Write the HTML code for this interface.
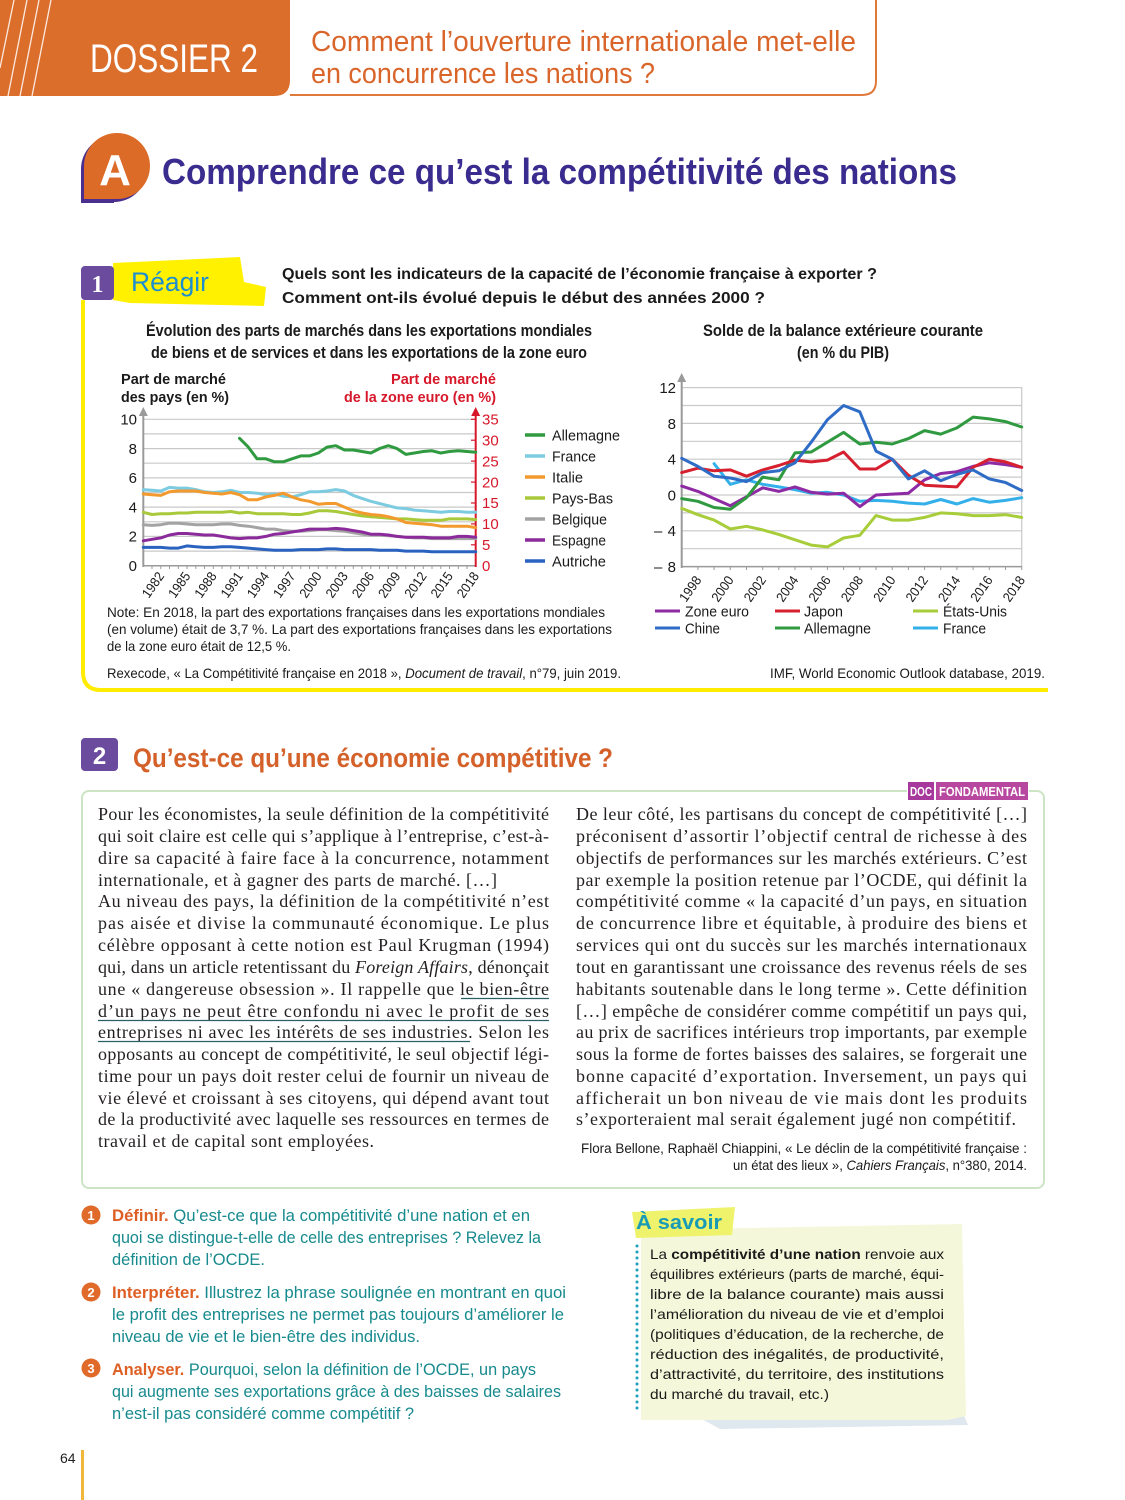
<!DOCTYPE html>
<html><head><meta charset="utf-8"><style>
html,body{margin:0;padding:0;background:#fff;}
svg{display:block;}
text{font-family:"Liberation Sans",sans-serif;}
.serif{font-family:"Liberation Serif",serif;}
</style></head><body>
<svg width="1125" height="1500" viewBox="0 0 1125 1500" xmlns="http://www.w3.org/2000/svg">
<!-- Header -->
<path d="M0,0 H290 V80 Q290,96 274,96 H0 Z" fill="#dc6e2c"/>
<g stroke="#fff" stroke-width="1.3" opacity="0.85">
<line x1="14" y1="0" x2="0" y2="68"/><line x1="27" y1="0" x2="8" y2="96"/><line x1="39" y1="0" x2="20" y2="96"/><line x1="51" y1="0" x2="32" y2="96"/>
</g>
<path d="M290,95 H862 Q876,95 876,81 V0" fill="none" stroke="#df7a3c" stroke-width="2"/>
<text x="90" y="72" font-size="40" fill="#fff" textLength="168" lengthAdjust="spacingAndGlyphs">DOSSIER 2</text>
<text x="311" y="51" font-size="29" fill="#d9652a" textLength="545" lengthAdjust="spacingAndGlyphs">Comment l’ouverture internationale met-elle</text>
<text x="311" y="83" font-size="29" fill="#d9652a" textLength="344" lengthAdjust="spacingAndGlyphs">en concurrence les nations ?</text>

<!-- A title -->
<circle cx="114" cy="169" r="33" fill="#4a2f8e"/>
<rect x="81" y="169" width="33" height="34" fill="#4a2f8e"/>
<circle cx="117" cy="166" r="33" fill="#dd6b28"/>
<rect x="84" y="166" width="33" height="33" fill="#dd6b28"/>
<text x="115" y="185" font-size="44" font-weight="bold" fill="#fff" text-anchor="middle">A</text>
<text x="162" y="184" font-size="36" font-weight="bold" fill="#3a2b8f" textLength="795" lengthAdjust="spacingAndGlyphs">Comprendre ce qu’est la compétitivité des nations</text>

<!-- Section 1 -->
<polygon points="113,263 240,257 244,282 266,287 264,306 130,303 113,300" fill="#fff100"/>
<path d="M83,300 V672 Q83,690 101,690 H1048" fill="none" stroke="#ffec00" stroke-width="4"/>
<rect x="81" y="266" width="33" height="34" rx="4" fill="#6b4b9d"/>
<text x="97.5" y="292" font-size="24" font-weight="bold" fill="#fff" text-anchor="middle" class="serif">1</text>
<text x="131" y="291" font-size="27" fill="#1d8fd0" textLength="78" lengthAdjust="spacingAndGlyphs">Réagir</text>
<text x="282" y="279" font-size="15.5" font-weight="bold" fill="#1a1a1a" textLength="595" lengthAdjust="spacingAndGlyphs">Quels sont les indicateurs de la capacité de l’économie française à exporter ?</text>
<text x="282" y="303" font-size="15.5" font-weight="bold" fill="#1a1a1a" textLength="483" lengthAdjust="spacingAndGlyphs">Comment ont-ils évolué depuis le début des années 2000 ?</text>

<!-- Left chart titles -->
<text x="146" y="336" font-size="17" font-weight="bold" fill="#1a1a1a" textLength="446" lengthAdjust="spacingAndGlyphs">Évolution des parts de marchés dans les exportations mondiales</text>
<text x="151" y="358" font-size="17" font-weight="bold" fill="#1a1a1a" textLength="436" lengthAdjust="spacingAndGlyphs">de biens et de services et dans les exportations de la zone euro</text>
<text x="121" y="384" font-size="15" font-weight="bold" fill="#1a1a1a" textLength="105" lengthAdjust="spacingAndGlyphs">Part de marché</text>
<text x="121" y="402" font-size="15" font-weight="bold" fill="#1a1a1a" textLength="108" lengthAdjust="spacingAndGlyphs">des pays (en %)</text>
<text x="391" y="384" font-size="15" font-weight="bold" fill="#d7182a" textLength="105" lengthAdjust="spacingAndGlyphs">Part de marché</text>
<text x="344" y="402" font-size="15" font-weight="bold" fill="#d7182a" textLength="152" lengthAdjust="spacingAndGlyphs">de la zone euro (en %)</text>

<!-- Left chart grid -->
<g stroke="#c9c9c9" stroke-width="1.2">
<line x1="143.3" y1="551.1" x2="475.7" y2="551.1"/><line x1="143.3" y1="536.4" x2="475.7" y2="536.4"/>
<line x1="143.3" y1="521.8" x2="475.7" y2="521.8"/><line x1="143.3" y1="507.1" x2="475.7" y2="507.1"/>
<line x1="143.3" y1="492.5" x2="475.7" y2="492.5"/><line x1="143.3" y1="477.9" x2="475.7" y2="477.9"/>
<line x1="143.3" y1="463.2" x2="475.7" y2="463.2"/><line x1="143.3" y1="448.6" x2="475.7" y2="448.6"/>
<line x1="143.3" y1="433.9" x2="475.7" y2="433.9"/><line x1="143.3" y1="419.3" x2="475.7" y2="419.3"/>
</g>
<line x1="143.3" y1="565.7" x2="475.7" y2="565.7" stroke="#9a9a9a" stroke-width="1.5"/>
<g stroke="#9a9a9a" stroke-width="1">
<line x1="152" y1="565.7" x2="152" y2="569"/><line x1="160.8" y1="565.7" x2="160.8" y2="569"/><line x1="169.5" y1="565.7" x2="169.5" y2="569"/><line x1="178.3" y1="565.7" x2="178.3" y2="569"/><line x1="187" y1="565.7" x2="187" y2="569"/><line x1="195.8" y1="565.7" x2="195.8" y2="569"/><line x1="204.5" y1="565.7" x2="204.5" y2="569"/><line x1="213.3" y1="565.7" x2="213.3" y2="569"/><line x1="222" y1="565.7" x2="222" y2="569"/><line x1="230.8" y1="565.7" x2="230.8" y2="569"/><line x1="239.5" y1="565.7" x2="239.5" y2="569"/><line x1="248.3" y1="565.7" x2="248.3" y2="569"/><line x1="257" y1="565.7" x2="257" y2="569"/><line x1="265.8" y1="565.7" x2="265.8" y2="569"/><line x1="274.5" y1="565.7" x2="274.5" y2="569"/><line x1="283.3" y1="565.7" x2="283.3" y2="569"/><line x1="292" y1="565.7" x2="292" y2="569"/><line x1="300.8" y1="565.7" x2="300.8" y2="569"/><line x1="309.5" y1="565.7" x2="309.5" y2="569"/><line x1="318.3" y1="565.7" x2="318.3" y2="569"/><line x1="327" y1="565.7" x2="327" y2="569"/><line x1="335.8" y1="565.7" x2="335.8" y2="569"/><line x1="344.5" y1="565.7" x2="344.5" y2="569"/><line x1="353.3" y1="565.7" x2="353.3" y2="569"/><line x1="362" y1="565.7" x2="362" y2="569"/><line x1="370.8" y1="565.7" x2="370.8" y2="569"/><line x1="379.5" y1="565.7" x2="379.5" y2="569"/><line x1="388.3" y1="565.7" x2="388.3" y2="569"/><line x1="397" y1="565.7" x2="397" y2="569"/><line x1="405.8" y1="565.7" x2="405.8" y2="569"/><line x1="414.5" y1="565.7" x2="414.5" y2="569"/><line x1="423.3" y1="565.7" x2="423.3" y2="569"/><line x1="432" y1="565.7" x2="432" y2="569"/><line x1="440.8" y1="565.7" x2="440.8" y2="569"/><line x1="449.5" y1="565.7" x2="449.5" y2="569"/><line x1="458.3" y1="565.7" x2="458.3" y2="569"/><line x1="467" y1="565.7" x2="467" y2="569"/>
</g>
<line x1="143.3" y1="567" x2="143.3" y2="414" stroke="#9a9a9a" stroke-width="2"/>
<polygon points="138.8,416 147.8,416 143.3,407" fill="#9a9a9a"/>
<line x1="475.7" y1="567" x2="475.7" y2="414" stroke="#d7182a" stroke-width="2"/>
<polygon points="471.2,416 480.2,416 475.7,407" fill="#d7182a"/>
<g stroke="#d7182a" stroke-width="1.2">
<line x1="471" y1="419.3" x2="476" y2="419.3"/><line x1="471" y1="440.2" x2="476" y2="440.2"/><line x1="471" y1="461.1" x2="476" y2="461.1"/><line x1="471" y1="482.1" x2="476" y2="482.1"/><line x1="471" y1="503" x2="476" y2="503"/><line x1="471" y1="523.9" x2="476" y2="523.9"/><line x1="471" y1="544.8" x2="476" y2="544.8"/>
</g>
<!-- Left y labels -->
<g font-size="15" fill="#1a1a1a" text-anchor="end">
<text x="137" y="424.5">10</text><text x="137" y="453.8">8</text><text x="137" y="483">6</text><text x="137" y="512.3">4</text><text x="137" y="541.6">2</text><text x="137" y="570.9">0</text>
</g>
<g font-size="15" fill="#d7182a">
<text x="482" y="424.5">35</text><text x="482" y="445.4">30</text><text x="482" y="466.3">25</text><text x="482" y="487.3">20</text><text x="482" y="508.2">15</text><text x="482" y="529.1">10</text><text x="482" y="550">5</text><text x="482" y="570.9">0</text>
</g>
<g font-size="13.5" fill="#1a1a1a" text-anchor="end">
<text transform="translate(164.8,576) rotate(-55)" textLength="28" lengthAdjust="spacingAndGlyphs">1982</text>
<text transform="translate(191,576) rotate(-55)" textLength="28" lengthAdjust="spacingAndGlyphs">1985</text>
<text transform="translate(217.3,576) rotate(-55)" textLength="28" lengthAdjust="spacingAndGlyphs">1988</text>
<text transform="translate(243.5,576) rotate(-55)" textLength="28" lengthAdjust="spacingAndGlyphs">1991</text>
<text transform="translate(269.8,576) rotate(-55)" textLength="28" lengthAdjust="spacingAndGlyphs">1994</text>
<text transform="translate(296,576) rotate(-55)" textLength="28" lengthAdjust="spacingAndGlyphs">1997</text>
<text transform="translate(322.3,576) rotate(-55)" textLength="28" lengthAdjust="spacingAndGlyphs">2000</text>
<text transform="translate(348.5,576) rotate(-55)" textLength="28" lengthAdjust="spacingAndGlyphs">2003</text>
<text transform="translate(374.8,576) rotate(-55)" textLength="28" lengthAdjust="spacingAndGlyphs">2006</text>
<text transform="translate(401,576) rotate(-55)" textLength="28" lengthAdjust="spacingAndGlyphs">2009</text>
<text transform="translate(427.3,576) rotate(-55)" textLength="28" lengthAdjust="spacingAndGlyphs">2012</text>
<text transform="translate(453.5,576) rotate(-55)" textLength="28" lengthAdjust="spacingAndGlyphs">2015</text>
<text transform="translate(479.7,576) rotate(-55)" textLength="28" lengthAdjust="spacingAndGlyphs">2018</text>
</g>
<!-- Left series -->
<g fill="none" stroke-width="3" stroke-linejoin="round" stroke-linecap="round">
<polyline stroke="#a3a3a3" points="143.3,524.7 152,525.4 160.8,524.7 169.5,523.2 178.3,523.2 187,524 195.8,524.7 204.5,524.7 213.3,524.7 222,524 230.8,524 239.5,525.4 248.3,526.2 257,527.6 265.8,529.1 274.5,529.1 283.3,530.6 292,531.3 300.8,531.3 309.5,530.6 318.3,529.8 327,529.8 335.8,530.6 344.5,531.3 353.3,532.8 362,534.2 370.8,535 379.5,535 388.3,535.7 397,536.4 405.8,537.2 414.5,537.9 423.3,537.9 432,538.6 440.8,538.6 449.5,538.6 458.3,538.6 467,538.6 475.7,538.6"/>
<polyline stroke="#a8c93a" points="143.3,512.3 152,514.5 160.8,513.7 169.5,513.7 178.3,513 187,513 195.8,512.3 204.5,512.3 213.3,512.3 222,512.3 230.8,511.5 239.5,513 248.3,512.3 257,513.7 265.8,513.7 274.5,513.7 283.3,513.7 292,514.5 300.8,514.5 309.5,513 318.3,510.8 327,510.8 335.8,511.5 344.5,513 353.3,514.5 362,515.9 370.8,516.7 379.5,517.4 388.3,518.1 397,518.9 405.8,518.9 414.5,519.6 423.3,520.3 432,520.3 440.8,520.3 449.5,518.9 458.3,518.9 467,518.9 475.7,519.6"/>
<polyline stroke="#7ccbe0" points="143.3,489.6 152,490.3 160.8,491 169.5,487.4 178.3,488.1 187,488.1 195.8,489.6 204.5,491.8 213.3,492.5 222,491.8 230.8,490.3 239.5,492.5 248.3,492.5 257,493.2 265.8,494.7 274.5,494 283.3,496.2 292,496.9 300.8,494.7 309.5,491.8 318.3,491.8 327,491 335.8,489.6 344.5,491 353.3,495.4 362,498.4 370.8,501.3 379.5,503.5 388.3,505.7 397,507.9 405.8,508.6 414.5,510.1 423.3,510.8 432,511.5 440.8,512.3 449.5,511.5 458.3,511.5 467,512.3 475.7,512.3"/>
<polyline stroke="#f29a2e" points="143.3,494 152,494.7 160.8,495.4 169.5,491.8 178.3,491 187,491 195.8,491 204.5,492.5 213.3,493.2 222,494 230.8,492.5 239.5,494.7 248.3,499.8 257,499.8 265.8,496.9 274.5,495.4 283.3,493.2 292,496.9 300.8,499.8 309.5,501.3 318.3,504.2 327,503.5 335.8,503.5 344.5,507.1 353.3,510.8 362,513 370.8,514.5 379.5,515.2 388.3,516.7 397,518.9 405.8,522.5 414.5,523.2 423.3,524 432,524.7 440.8,526.2 449.5,526.2 458.3,526.2 467,526.2 475.7,527.6"/>
<polyline stroke="#8b2a9b" points="143.3,540.8 152,539.3 160.8,537.9 169.5,535 178.3,533.5 187,533.5 195.8,534.2 204.5,535 213.3,535 222,536.4 230.8,537.9 239.5,538.6 248.3,537.9 257,537.9 265.8,536.4 274.5,534.2 283.3,533.5 292,532 300.8,530.6 309.5,529.1 318.3,529.1 327,529.1 335.8,528.4 344.5,529.1 353.3,530.6 362,532 370.8,534.2 379.5,534.2 388.3,535 397,536.4 405.8,537.2 414.5,537.2 423.3,537.2 432,537.9 440.8,537.9 449.5,537.9 458.3,536.4 467,536.4 475.7,537.2"/>
<polyline stroke="#2a62c0" points="143.3,547.4 152,547.4 160.8,547.4 169.5,548.1 178.3,548.1 187,545.9 195.8,546.7 204.5,547.4 213.3,547.4 222,546.7 230.8,546.7 239.5,547.4 248.3,548.1 257,548.9 265.8,549.6 274.5,550.3 283.3,550.3 292,550.3 300.8,549.6 309.5,549.6 318.3,549.6 327,548.9 335.8,548.9 344.5,549.6 353.3,549.6 362,549.6 370.8,549.6 379.5,550.3 388.3,550.3 397,550.3 405.8,551.1 414.5,551.1 423.3,551.1 432,551.8 440.8,551.8 449.5,551.8 458.3,551.8 467,551.8 475.7,551.8"/>
<polyline stroke="#2f9a3f" points="239.5,438.3 248.3,447.1 257,458.8 265.8,458.8 274.5,461.8 283.3,461.8 292,458.8 300.8,455.9 309.5,455.9 318.3,453 327,447.1 335.8,445.7 344.5,450 353.3,450 362,451.5 370.8,453 379.5,448.6 388.3,445.7 397,448.6 405.8,454.4 414.5,453 423.3,451.5 432,450.8 440.8,453 449.5,451.5 458.3,450.8 467,451.5 475.7,452.2"/>
</g>
<!-- Left legend -->
<g stroke-width="3.5">
<line x1="525" y1="435" x2="545" y2="435" stroke="#2f9a3f"/>
<line x1="525" y1="456" x2="545" y2="456" stroke="#7ccbe0"/>
<line x1="525" y1="477" x2="545" y2="477" stroke="#f29a2e"/>
<line x1="525" y1="498" x2="545" y2="498" stroke="#a8c93a"/>
<line x1="525" y1="519" x2="545" y2="519" stroke="#a3a3a3"/>
<line x1="525" y1="540" x2="545" y2="540" stroke="#8b2a9b"/>
<line x1="525" y1="561" x2="545" y2="561" stroke="#2a62c0"/>
</g>
<g font-size="15" fill="#1a1a1a">
<text x="552" y="440.5" textLength="68" lengthAdjust="spacingAndGlyphs">Allemagne</text>
<text x="552" y="461.5" textLength="44" lengthAdjust="spacingAndGlyphs">France</text>
<text x="552" y="482.5" textLength="31" lengthAdjust="spacingAndGlyphs">Italie</text>
<text x="552" y="503.5" textLength="61" lengthAdjust="spacingAndGlyphs">Pays-Bas</text>
<text x="552" y="524.5" textLength="55" lengthAdjust="spacingAndGlyphs">Belgique</text>
<text x="552" y="545.5" textLength="54" lengthAdjust="spacingAndGlyphs">Espagne</text>
<text x="552" y="566.5" textLength="54" lengthAdjust="spacingAndGlyphs">Autriche</text>
</g>
<!-- Notes -->
<g font-size="14" fill="#1a1a1a">
<text x="107" y="617" textLength="498" lengthAdjust="spacingAndGlyphs">Note: En 2018, la part des exportations françaises dans les exportations mondiales</text>
<text x="107" y="634" textLength="505" lengthAdjust="spacingAndGlyphs">(en volume) était de 3,7 %. La part des exportations françaises dans les exportations</text>
<text x="107" y="651" textLength="184" lengthAdjust="spacingAndGlyphs">de la zone euro était de 12,5 %.</text>
<text x="107" y="678" textLength="514" lengthAdjust="spacingAndGlyphs">Rexecode, « La Compétitivité française en 2018 », <tspan font-style="italic">Document de travail</tspan>, n°79, juin 2019.</text>
<text x="770" y="678" textLength="275" lengthAdjust="spacingAndGlyphs">IMF, World Economic Outlook database, 2019.</text>
</g>

<!-- Right chart -->
<text x="703" y="336" font-size="17" font-weight="bold" fill="#1a1a1a" textLength="280" lengthAdjust="spacingAndGlyphs">Solde de la balance extérieure courante</text>
<text x="797" y="358" font-size="17" font-weight="bold" fill="#1a1a1a" textLength="92" lengthAdjust="spacingAndGlyphs">(en % du PIB)</text>
<g stroke="#c9c9c9" stroke-width="1.2">
<line x1="681.7" y1="405.5" x2="1021.7" y2="405.5"/><line x1="681.7" y1="423.4" x2="1021.7" y2="423.4"/>
<line x1="681.7" y1="441.3" x2="1021.7" y2="441.3"/><line x1="681.7" y1="459.2" x2="1021.7" y2="459.2"/>
<line x1="681.7" y1="477.1" x2="1021.7" y2="477.1"/><line x1="681.7" y1="495" x2="1021.7" y2="495"/>
<line x1="681.7" y1="512.9" x2="1021.7" y2="512.9"/><line x1="681.7" y1="530.8" x2="1021.7" y2="530.8"/>
<line x1="681.7" y1="548.7" x2="1021.7" y2="548.7"/>
</g>
<rect x="681.7" y="387.6" width="340" height="179" fill="none" stroke="#c9c9c9" stroke-width="1.2"/>
<line x1="681.7" y1="566.6" x2="1021.7" y2="566.6" stroke="#9a9a9a" stroke-width="1.5"/>
<g stroke="#9a9a9a" stroke-width="1">
<line x1="697.9" y1="566.6" x2="697.9" y2="570"/><line x1="714.1" y1="566.6" x2="714.1" y2="570"/><line x1="730.3" y1="566.6" x2="730.3" y2="570"/><line x1="746.5" y1="566.6" x2="746.5" y2="570"/><line x1="762.7" y1="566.6" x2="762.7" y2="570"/><line x1="778.8" y1="566.6" x2="778.8" y2="570"/><line x1="795" y1="566.6" x2="795" y2="570"/><line x1="811.2" y1="566.6" x2="811.2" y2="570"/><line x1="827.4" y1="566.6" x2="827.4" y2="570"/><line x1="843.6" y1="566.6" x2="843.6" y2="570"/><line x1="859.8" y1="566.6" x2="859.8" y2="570"/><line x1="876" y1="566.6" x2="876" y2="570"/><line x1="892.2" y1="566.6" x2="892.2" y2="570"/><line x1="908.4" y1="566.6" x2="908.4" y2="570"/><line x1="924.6" y1="566.6" x2="924.6" y2="570"/><line x1="940.7" y1="566.6" x2="940.7" y2="570"/><line x1="956.9" y1="566.6" x2="956.9" y2="570"/><line x1="973.1" y1="566.6" x2="973.1" y2="570"/><line x1="989.3" y1="566.6" x2="989.3" y2="570"/><line x1="1005.5" y1="566.6" x2="1005.5" y2="570"/><line x1="1021.7" y1="566.6" x2="1021.7" y2="570"/>
</g>
<line x1="681.7" y1="568" x2="681.7" y2="381" stroke="#9a9a9a" stroke-width="2"/>
<polygon points="677.2,382 686.2,382 681.7,373" fill="#9a9a9a"/>
<g font-size="15" fill="#1a1a1a" text-anchor="end">
<text x="676" y="393">12</text><text x="676" y="429">8</text><text x="676" y="464.5">4</text><text x="676" y="500.3">0</text><text x="676" y="536" textLength="22" lengthAdjust="spacing">– 4</text><text x="676" y="572" textLength="22" lengthAdjust="spacing">– 8</text>
</g>
<g font-size="13.5" fill="#1a1a1a" text-anchor="end">
<text transform="translate(702,580) rotate(-55)" textLength="28" lengthAdjust="spacingAndGlyphs">1998</text>
<text transform="translate(734.3,580) rotate(-55)" textLength="28" lengthAdjust="spacingAndGlyphs">2000</text>
<text transform="translate(766.7,580) rotate(-55)" textLength="28" lengthAdjust="spacingAndGlyphs">2002</text>
<text transform="translate(799,580) rotate(-55)" textLength="28" lengthAdjust="spacingAndGlyphs">2004</text>
<text transform="translate(831.4,580) rotate(-55)" textLength="28" lengthAdjust="spacingAndGlyphs">2006</text>
<text transform="translate(863.8,580) rotate(-55)" textLength="28" lengthAdjust="spacingAndGlyphs">2008</text>
<text transform="translate(896.2,580) rotate(-55)" textLength="28" lengthAdjust="spacingAndGlyphs">2010</text>
<text transform="translate(928.6,580) rotate(-55)" textLength="28" lengthAdjust="spacingAndGlyphs">2012</text>
<text transform="translate(960.9,580) rotate(-55)" textLength="28" lengthAdjust="spacingAndGlyphs">2014</text>
<text transform="translate(993.3,580) rotate(-55)" textLength="28" lengthAdjust="spacingAndGlyphs">2016</text>
<text transform="translate(1025.7,580) rotate(-55)" textLength="28" lengthAdjust="spacingAndGlyphs">2018</text>
</g>
<g fill="none" stroke-width="3" stroke-linejoin="round" stroke-linecap="round">
<polyline stroke="#a8cd3a" points="681.7,508.4 697.9,514.7 714.1,520.1 730.3,529 746.5,526.3 762.7,529.9 778.8,534.4 795,539.8 811.2,545.1 827.4,546.9 843.6,538 859.8,535.3 876,515.6 892.2,520.1 908.4,520.1 924.6,517.4 940.7,512.9 956.9,513.8 973.1,515.6 989.3,515.6 1005.5,514.7 1021.7,517.4"/>
<polyline stroke="#33b0ea" points="714.1,463.7 730.3,484.3 746.5,479.8 762.7,484.3 778.8,486.9 795,489.6 811.2,493.2 827.4,492.3 843.6,495 859.8,501.3 876,500.4 892.2,501.3 908.4,503.1 924.6,504 940.7,499.5 956.9,504 973.1,498.6 989.3,502.2 1005.5,500.4 1021.7,497.7"/>
<polyline stroke="#8e2aa3" points="681.7,486.1 697.9,491.4 714.1,498.6 730.3,505.7 746.5,496.8 762.7,487.8 778.8,491.4 795,486.9 811.2,492.3 827.4,494.1 843.6,493.2 859.8,506.6 876,495 892.2,494.1 908.4,493.2 924.6,479.8 940.7,473.5 956.9,471.7 973.1,466.4 989.3,462.8 1005.5,464.6 1021.7,467.3"/>
<polyline stroke="#2f9a3f" points="681.7,498.6 697.9,501.3 714.1,507.5 730.3,509.3 746.5,497.7 762.7,477.1 778.8,479.8 795,452.9 811.2,452 827.4,442.2 843.6,432.4 859.8,444 876,442.2 892.2,444 908.4,438.6 924.6,430.6 940.7,434.1 956.9,427.9 973.1,417.1 989.3,418.9 1005.5,421.6 1021.7,427"/>
<polyline stroke="#d7202f" points="681.7,472.6 697.9,468.2 714.1,470.8 730.3,469.9 746.5,476.2 762.7,469.9 778.8,465.5 795,460.1 811.2,461.9 827.4,460.1 843.6,452 859.8,469 876,469 892.2,459.2 908.4,475.3 924.6,485.2 940.7,486.1 956.9,486.9 973.1,467.3 989.3,459.2 1005.5,461.9 1021.7,467.3"/>
<polyline stroke="#2f6cc6" points="681.7,458.3 697.9,466.4 714.1,476.2 730.3,478 746.5,481.6 762.7,472.6 778.8,470.8 795,462.8 811.2,442.2 827.4,419.8 843.6,405.5 859.8,411.8 876,451.1 892.2,459.2 908.4,478.9 924.6,470.8 940.7,480.7 956.9,474.4 973.1,469.9 989.3,478.9 1005.5,482.5 1021.7,490.5"/>
</g>
<g stroke-width="3">
<line x1="655" y1="611" x2="680" y2="611" stroke="#8e2aa3"/>
<line x1="775" y1="611" x2="800" y2="611" stroke="#d7202f"/>
<line x1="913" y1="611" x2="938" y2="611" stroke="#a8cd3a"/>
<line x1="655" y1="628" x2="680" y2="628" stroke="#2f6cc6"/>
<line x1="775" y1="628" x2="800" y2="628" stroke="#2f9a3f"/>
<line x1="913" y1="628" x2="938" y2="628" stroke="#33b0ea"/>
</g>
<g font-size="15" fill="#1a1a1a">
<text x="685" y="616.5" textLength="64" lengthAdjust="spacingAndGlyphs">Zone euro</text>
<text x="804" y="616.5" textLength="39" lengthAdjust="spacingAndGlyphs">Japon</text>
<text x="943" y="616.5" textLength="64" lengthAdjust="spacingAndGlyphs">États-Unis</text>
<text x="685" y="633.5" textLength="35" lengthAdjust="spacingAndGlyphs">Chine</text>
<text x="804" y="633.5" textLength="67" lengthAdjust="spacingAndGlyphs">Allemagne</text>
<text x="943" y="633.5" textLength="43" lengthAdjust="spacingAndGlyphs">France</text>
</g>

<!-- Section 2 -->
<rect x="81" y="738" width="37" height="33" rx="4" fill="#6b4b9d"/>
<text x="99.5" y="764" font-size="24" font-weight="bold" fill="#fff" text-anchor="middle">2</text>
<text x="133" y="767" font-size="27" font-weight="bold" fill="#d4602a" textLength="480" lengthAdjust="spacingAndGlyphs">Qu’est-ce qu’une économie compétitive ?</text>
<rect x="82" y="791" width="962" height="397" rx="7" fill="#fff" stroke="#cbe5c4" stroke-width="2"/>
<rect x="907" y="781" width="122" height="20" fill="#fff"/>
<rect x="908" y="782" width="26" height="18" fill="#a8399c"/>
<rect x="936" y="782" width="92" height="18" fill="#b8479f"/>
<text x="910" y="796" font-size="12.5" font-weight="bold" fill="#fff" textLength="22" lengthAdjust="spacingAndGlyphs">DOC</text>
<text x="939" y="796" font-size="12.5" font-weight="bold" fill="#fff" textLength="86" lengthAdjust="spacingAndGlyphs">FONDAMENTAL</text>

<g class="serif" font-size="18" fill="#231f20">
<text class="serif" x="98" y="820" textLength="451" lengthAdjust="spacing">Pour les économistes, la seule définition de la compétitivité</text>
<text class="serif" x="98" y="842" textLength="451" lengthAdjust="spacing">qui soit claire est celle qui s’applique à l’entreprise, c’est-à-</text>
<text class="serif" x="98" y="864" textLength="451" lengthAdjust="spacing">dire sa capacité à faire face à la concurrence, notamment</text>
<text class="serif" x="98" y="886" textLength="399" lengthAdjust="spacing">internationale, et à gagner des parts de marché. […]</text>
<text class="serif" x="98" y="907" textLength="451" lengthAdjust="spacing">Au niveau des pays, la définition de la compétitivité n’est</text>
<text class="serif" x="98" y="929" textLength="451" lengthAdjust="spacing">pas aisée et divise la communauté économique. Le plus</text>
<text class="serif" x="98" y="951" textLength="451" lengthAdjust="spacing">célèbre opposant à cette notion est Paul Krugman (1994)</text>
<text class="serif" x="98" y="973" textLength="451" lengthAdjust="spacing">qui, dans un article retentissant du <tspan font-style="italic">Foreign Affairs</tspan>, dénonçait</text>
<text class="serif" x="98" y="995" textLength="451" lengthAdjust="spacing">une « dangereuse obsession ». Il rappelle que le bien-être</text>
<text class="serif" x="98" y="1017" textLength="451" lengthAdjust="spacing">d’un pays ne peut être confondu ni avec le profit de ses</text>
<text class="serif" x="98" y="1038" textLength="451" lengthAdjust="spacing">entreprises ni avec les intérêts de ses industries. Selon les</text>
<text class="serif" x="98" y="1060" textLength="451" lengthAdjust="spacing">opposants au concept de compétitivité, le seul objectif légi-</text>
<text class="serif" x="98" y="1082" textLength="451" lengthAdjust="spacing">time pour un pays doit rester celui de fournir un niveau de</text>
<text class="serif" x="98" y="1104" textLength="451" lengthAdjust="spacing">vie élevé et croissant à ses citoyens, qui dépend avant tout</text>
<text class="serif" x="98" y="1125" textLength="451" lengthAdjust="spacing">de la productivité avec laquelle ses ressources en termes de</text>
<text class="serif" x="98" y="1147" textLength="276" lengthAdjust="spacing">travail et de capital sont employées.</text>

<text class="serif" x="576" y="820" textLength="451" lengthAdjust="spacing">De leur côté, les partisans du concept de compétitivité […]</text>
<text class="serif" x="576" y="842" textLength="451" lengthAdjust="spacing">préconisent d’assortir l’objectif central de richesse à des</text>
<text class="serif" x="576" y="864" textLength="451" lengthAdjust="spacing">objectifs de performances sur les marchés extérieurs. C’est</text>
<text class="serif" x="576" y="886" textLength="451" lengthAdjust="spacing">par exemple la position retenue par l’OCDE, qui définit la</text>
<text class="serif" x="576" y="907" textLength="451" lengthAdjust="spacing">compétitivité comme « la capacité d’un pays, en situation</text>
<text class="serif" x="576" y="929" textLength="451" lengthAdjust="spacing">de concurrence libre et équitable, à produire des biens et</text>
<text class="serif" x="576" y="951" textLength="451" lengthAdjust="spacing">services qui ont du succès sur les marchés internationaux</text>
<text class="serif" x="576" y="973" textLength="451" lengthAdjust="spacing">tout en garantissant une croissance des revenus réels de ses</text>
<text class="serif" x="576" y="995" textLength="451" lengthAdjust="spacing">habitants soutenable dans le long terme ». Cette définition</text>
<text class="serif" x="576" y="1017" textLength="451" lengthAdjust="spacing">[…] empêche de considérer comme compétitif un pays qui,</text>
<text class="serif" x="576" y="1038" textLength="451" lengthAdjust="spacing">au prix de sacrifices intérieurs trop importants, par exemple</text>
<text class="serif" x="576" y="1060" textLength="451" lengthAdjust="spacing">sous la forme de fortes baisses des salaires, se forgerait une</text>
<text class="serif" x="576" y="1082" textLength="451" lengthAdjust="spacing">bonne capacité d’exportation. Inversement, un pays qui</text>
<text class="serif" x="576" y="1104" textLength="451" lengthAdjust="spacing">afficherait un bon niveau de vie mais dont les produits</text>
<text class="serif" x="576" y="1125" textLength="440" lengthAdjust="spacing">s’exporteraient mal serait également jugé non compétitif.</text>
</g>
<g stroke="#2b5f66" stroke-width="1.2">
<line x1="461" y1="998.5" x2="549" y2="998.5"/>
<line x1="98" y1="1020.5" x2="549" y2="1020.5"/>
<line x1="98" y1="1041.5" x2="470" y2="1041.5"/>
</g>
<g font-size="14" fill="#1a1a1a">
<text x="581" y="1153" textLength="446" lengthAdjust="spacingAndGlyphs">Flora Bellone, Raphaël Chiappini, « Le déclin de la compétitivité française :</text>
<text x="733" y="1170" textLength="294" lengthAdjust="spacingAndGlyphs">un état des lieux », <tspan font-style="italic">Cahiers Français</tspan>, n°380, 2014.</text>
</g>

<!-- Questions -->
<g>
<circle cx="91" cy="1215" r="9.5" fill="#e06a2a"/><text x="91" y="1220" font-size="13" font-weight="bold" fill="#fff" text-anchor="middle">1</text>
<circle cx="91" cy="1292" r="9.5" fill="#e06a2a"/><text x="91" y="1297" font-size="13" font-weight="bold" fill="#fff" text-anchor="middle">2</text>
<circle cx="91" cy="1368" r="9.5" fill="#e06a2a"/><text x="91" y="1373" font-size="13" font-weight="bold" fill="#fff" text-anchor="middle">3</text>
</g>
<g font-size="16.5" fill="#178a8e">
<text x="112" y="1221" textLength="418" lengthAdjust="spacingAndGlyphs"><tspan font-weight="bold" fill="#de5f24">Définir. </tspan>Qu’est-ce que la compétitivité d’une nation et en</text>
<text x="112" y="1243" textLength="429" lengthAdjust="spacingAndGlyphs">quoi se distingue-t-elle de celle des entreprises ? Relevez la</text>
<text x="112" y="1265" textLength="153" lengthAdjust="spacingAndGlyphs">définition de l’OCDE.</text>
<text x="112" y="1298" textLength="454" lengthAdjust="spacingAndGlyphs"><tspan font-weight="bold" fill="#de5f24">Interpréter. </tspan>Illustrez la phrase soulignée en montrant en quoi</text>
<text x="112" y="1320" textLength="452" lengthAdjust="spacingAndGlyphs">le profit des entreprises ne permet pas toujours d’améliorer le</text>
<text x="112" y="1342" textLength="308" lengthAdjust="spacingAndGlyphs">niveau de vie et le bien-être des individus.</text>
<text x="112" y="1375" textLength="424" lengthAdjust="spacingAndGlyphs"><tspan font-weight="bold" fill="#de5f24">Analyser. </tspan>Pourquoi, selon la définition de l’OCDE, un pays</text>
<text x="112" y="1397" textLength="449" lengthAdjust="spacingAndGlyphs">qui augmente ses exportations grâce à des baisses de salaires</text>
<text x="112" y="1419" textLength="302" lengthAdjust="spacingAndGlyphs">n’est-il pas considéré comme compétitif ?</text>
</g>

<!-- A savoir -->
<polygon points="700,1418 962,1411 968,1425 720,1429" fill="#dfe7ef"/>
<polygon points="641,1230 962,1224 966,1416 948,1420 641,1420" fill="#f4f7d9"/>
<polygon points="632,1212 735,1207 732,1235 636,1238" fill="#eef36b"/>
<text x="636" y="1229" font-size="20" font-weight="bold" fill="#1a9bb5" textLength="86" lengthAdjust="spacingAndGlyphs">À savoir</text>
<line x1="637" y1="1246" x2="637" y2="1414" stroke="#1aa0b8" stroke-width="3" stroke-dasharray="0 6" stroke-linecap="round"/>
<g font-size="14" fill="#1a1a1a">
<text x="650" y="1259" textLength="294" lengthAdjust="spacingAndGlyphs">La <tspan font-weight="bold">compétitivité d’une nation</tspan> renvoie aux</text>
<text x="650" y="1279" textLength="294" lengthAdjust="spacingAndGlyphs">équilibres extérieurs (parts de marché, équi-</text>
<text x="650" y="1299" textLength="294" lengthAdjust="spacingAndGlyphs">libre de la balance courante) mais aussi</text>
<text x="650" y="1319" textLength="294" lengthAdjust="spacingAndGlyphs">l’amélioration du niveau de vie et d’emploi</text>
<text x="650" y="1339" textLength="294" lengthAdjust="spacingAndGlyphs">(politiques d’éducation, de la recherche, de</text>
<text x="650" y="1359" textLength="294" lengthAdjust="spacingAndGlyphs">réduction des inégalités, de productivité,</text>
<text x="650" y="1379" textLength="294" lengthAdjust="spacingAndGlyphs">d’attractivité, du territoire, des institutions</text>
<text x="650" y="1399" textLength="179" lengthAdjust="spacingAndGlyphs">du marché du travail, etc.)</text>
</g>

<!-- Page number -->
<text x="60" y="1463" font-size="14" fill="#222">64</text>
<rect x="81" y="1450" width="3" height="50" fill="#f0b73a"/>
</svg>
</body></html>
